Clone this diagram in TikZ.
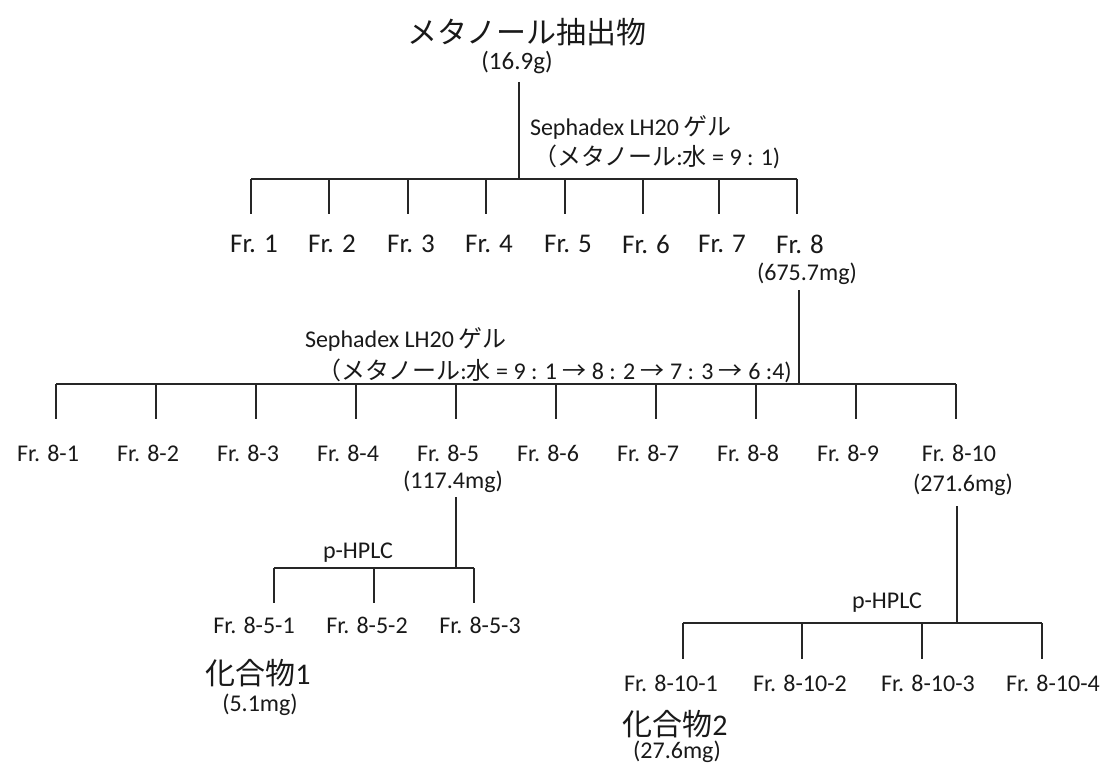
\documentclass[tikz,border=0pt]{standalone}
\usepackage{fontspec}
\setmainfont{Carlito}
\newfontfamily\jp{Noto Sans CJK JP}
\newcommand{\fs}[1]{\fontsize{#1}{#1}\selectfont}
\begin{document}
\begin{tikzpicture}[x=1pt,y=-1pt,
  lbl/.style={inner sep=0pt,outer sep=0pt,text=black!90},
  big/.style={lbl,font=\fs{27}},
  mid/.style={lbl,font=\fs{24}},
  jbig/.style={lbl,font=\jp\fs{30}},
  ln/.style={line width=1.4pt,draw=black!85},
]
\useasboundingbox (0,0) rectangle (1105,767);
% ---------- level 0
\node[jbig] (title) at (527,32) {メタノール抽出物};
\node[mid,font=\fs{25}] (m0) at (517,63) {(16.9g)};
\coordinate (t0) at (519,82);
\coordinate (b0) at (519,179);
\draw[ln] (t0) -- (b0);
\node[mid,anchor=west] (s1a) at (530,127) {Sephadex LH20\,{\jp ゲル}};
\node[mid,anchor=west] (s1b) at (533,157) {{\jp （メタノール}:{\jp 水} = 9 : 1)};
\draw[ln] (251,179) -- (797,179);
% ---------- level 1
\foreach \i/\x in {1/251,2/329,3/408,4/486,5/565,6/643,7/719,8/797}{
  \coordinate (f\i) at (\x,179);
  \node[big] (F\i) at (\x+3,244) {Fr. \i};
  \draw[ln] (f\i) -- (\x,214);
}
\node[mid] (m8) at (807,274) {(675.7mg)};
\coordinate (t8) at (799,290);
\coordinate (b8) at (799,384);
\draw[ln] (t8) -- (b8);
\draw[line width=2.6pt,draw=black!85] (t8) -- (799,323);
\node[mid,anchor=west] (s2a) at (305,339) {Sephadex LH20\,{\jp ゲル}};
\node[mid,anchor=west] (s2b) at (317,371) {{\jp （メタノール}:{\jp 水} = 9 : 1 {\jp →} 8 : 2 {\jp →} 7 : 3 {\jp →} 6 :4)};
\draw[ln] (56,384) -- (956,384);
% ---------- level 2
\foreach \i in {1,...,10}{
  \pgfmathsetmacro{\xx}{56+100*(\i-1)}
  \coordinate (g\i) at (\xx,384);
  \draw[ln] (g\i) -- (\xx,419);
}
\foreach \i in {1,...,9}{
  \node[mid] (G\i) at ({48+100*(\i-1)},453) {Fr. 8-\i};
}
\node[mid] (G10) at (959,453) {Fr. 8-10};
\node[mid] (m85) at (453,482) {(117.4mg)};
\node[mid] (m810) at (963,485) {(271.6mg)};
% ---------- Fr. 8-5 branch
\coordinate (t85) at (456,497);
\coordinate (b85) at (456,568);
\draw[ln] (t85) -- (b85);
\draw[ln] (274,568) -- (474,568);
\node[mid] (h1) at (358,553) {p-HPLC};
\foreach \i/\x/\c in {1/274/254,2/374/367,3/474/480}{
  \coordinate (h5\i) at (\x,568);
  \draw[ln] (h5\i) -- (\x,603);
  \node[mid] (H5\i) at (\c,625) {Fr. 8-5-\i};
}
\node[jbig] (c1) at (258,673) {化合物{\rmfamily 1}};
\node[mid] (mc1) at (260,705) {(5.1mg)};
% ---------- Fr. 8-10 branch
\coordinate (t810) at (957,506);
\coordinate (b810) at (957,623);
\draw[ln] (t810) -- (b810);
\draw[ln] (683,623) -- (1042,623);
\node[mid] (h2) at (887,603) {p-HPLC};
\foreach \i/\x/\c in {1/683/671,2/802/800,3/922/928,4/1042/1053}{
  \coordinate (h10\i) at (\x,623);
  \draw[ln] (h10\i) -- (\x,659);
  \node[mid] (H10\i) at (\c,683) {Fr. 8-10-\i};
}
\node[jbig] (c2) at (675,724) {化合物{\rmfamily 2}};
\node[mid] (mc2) at (677,752) {(27.6mg)};
\end{tikzpicture}
\end{document}
